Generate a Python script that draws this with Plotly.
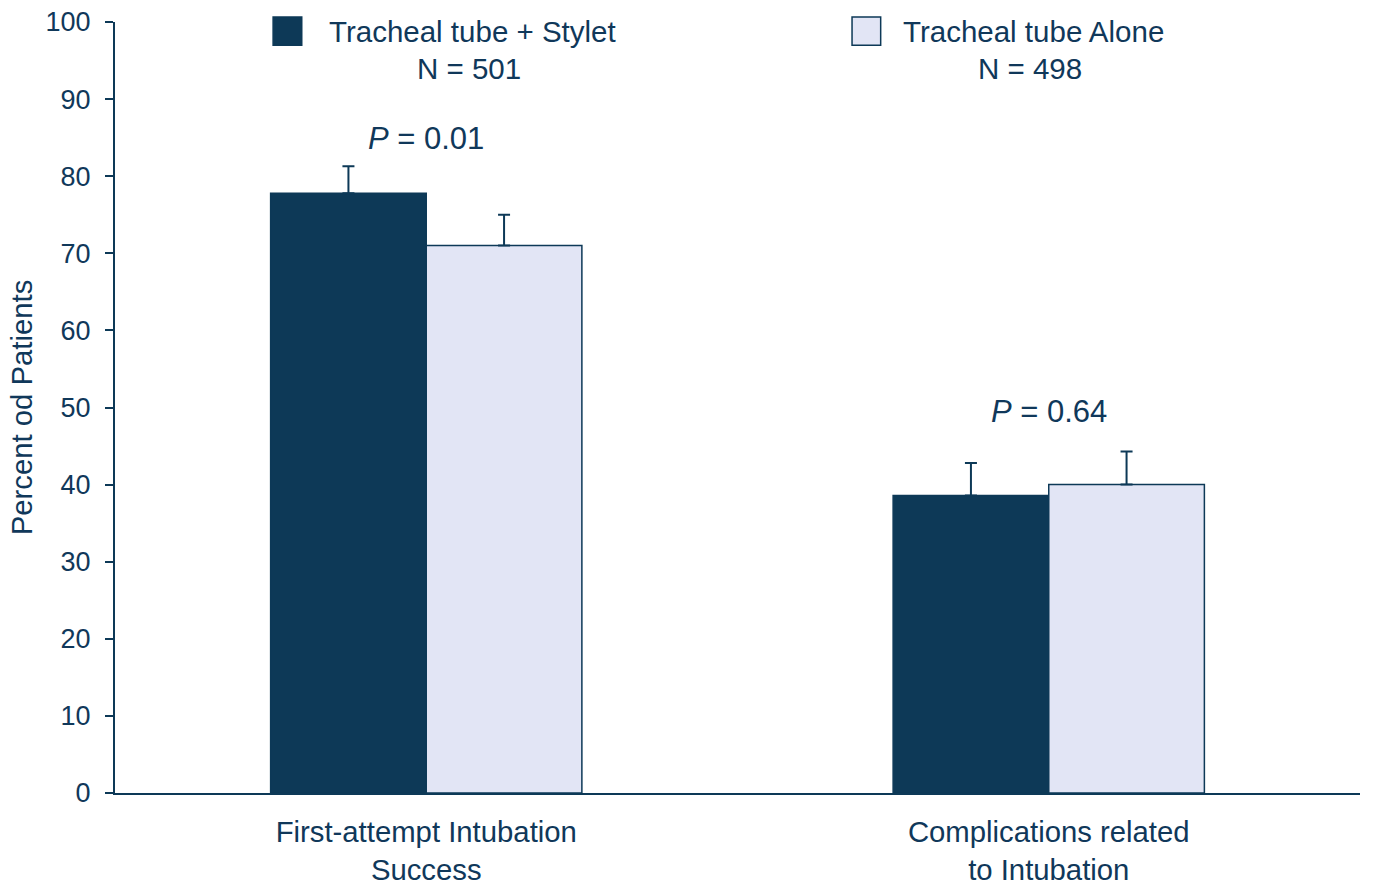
import plotly.graph_objects as go

categories = ["First-attempt Intubation<br>Success", "Complications related<br>to Intubation"]
stylet_values = [77.8, 38.6]
alone_values = [71.0, 40.0]
stylet_err = [3.5, 4.2]
alone_err = [4.0, 4.3]
series_names = ["Tracheal tube + Stylet", "Tracheal tube Alone"]
series_n = ["N = 501", "N = 498"]
p_labels = ["<i>P</i> = 0.01", "<i>P</i> = 0.64"]
p_label_y = [84.9, 49.5]
y_ticks = [0, 10, 20, 30, 40, 50, 60, 70, 80, 90, 100]

DARK = "#0d3957"
LIGHT = "#e2e5f5"
TEXT = "#10385a"
FONT = "Liberation Sans, Arial, sans-serif"

fig = go.Figure()
fig.add_trace(go.Bar(
    x=categories, y=stylet_values, name=series_names[0],
    marker=dict(color=DARK, line=dict(color=DARK, width=1.5)),
    error_y=dict(type="data", symmetric=False, array=stylet_err,
                 arrayminus=[0, 0], color=DARK, thickness=2, width=6),
))
fig.add_trace(go.Bar(
    x=categories, y=alone_values, name=series_names[1],
    marker=dict(color=LIGHT, line=dict(color=DARK, width=1.5)),
    error_y=dict(type="data", symmetric=False, array=alone_err,
                 arrayminus=[0, 0], color=DARK, thickness=2, width=6),
))

for cat, lab, yy in zip(categories, p_labels, p_label_y):
    fig.add_annotation(x=cat, y=yy, text=lab, showarrow=False,
                       font=dict(size=31, color=TEXT, family=FONT),
                       xanchor="center", yanchor="middle")

# legend (custom, at top)
legend_pos = [(0.127, 0.150, 0.170, 0.284), (0.592, 0.615, 0.631, 0.735)]
legend_fill = [DARK, LIGHT]
for (sx0, sx1, tx, nx), name, n, fill in zip(legend_pos, series_names, series_n, legend_fill):
    fig.add_shape(type="rect", xref="paper", yref="paper",
                  x0=sx0, x1=sx1, y0=0.970, y1=1.0065,
                  fillcolor=fill, line=dict(color=DARK, width=1.5))
    fig.add_annotation(xref="paper", yref="paper", x=tx, y=0.988, text=name,
                       showarrow=False, xanchor="left", yanchor="middle",
                       font=dict(size=29.5, color=TEXT, family=FONT))
    fig.add_annotation(xref="paper", yref="paper", x=nx, y=0.940, text=n,
                       showarrow=False, xanchor="center", yanchor="middle",
                       font=dict(size=29.5, color=TEXT, family=FONT))

fig.update_layout(
    width=1374, height=885,
    margin=dict(l=115, r=14, t=22, b=92, autoexpand=False),
    paper_bgcolor="white", plot_bgcolor="white",
    barmode="group", bargap=0.5, bargroupgap=0,
    showlegend=False,
    font=dict(family=FONT, color=TEXT, size=29),
    xaxis=dict(
        range=[-0.5, 1.5], showline=True, linecolor=DARK, linewidth=2,
        ticks="", showgrid=False, zeroline=False, ticklabelstandoff=12,
        tickfont=dict(size=29.3, color=TEXT, family=FONT),
    ),
    yaxis=dict(
        range=[0, 100], tickvals=y_ticks, showline=True, linecolor=DARK,
        linewidth=2, ticks="outside", ticklen=8, tickwidth=2, tickcolor=DARK,
        showgrid=False, zeroline=False, ticklabelstandoff=9,
        tickfont=dict(size=27, color=TEXT, family=FONT),
        title=dict(text="Percent od Patients", standoff=4,
                   font=dict(size=29.3, color=TEXT, family=FONT)),
    ),
)

fig.write_html("out.html", config={"displayModeBar": False},
               post_script="document.body.style.margin='0';document.body.style.padding='0';")
